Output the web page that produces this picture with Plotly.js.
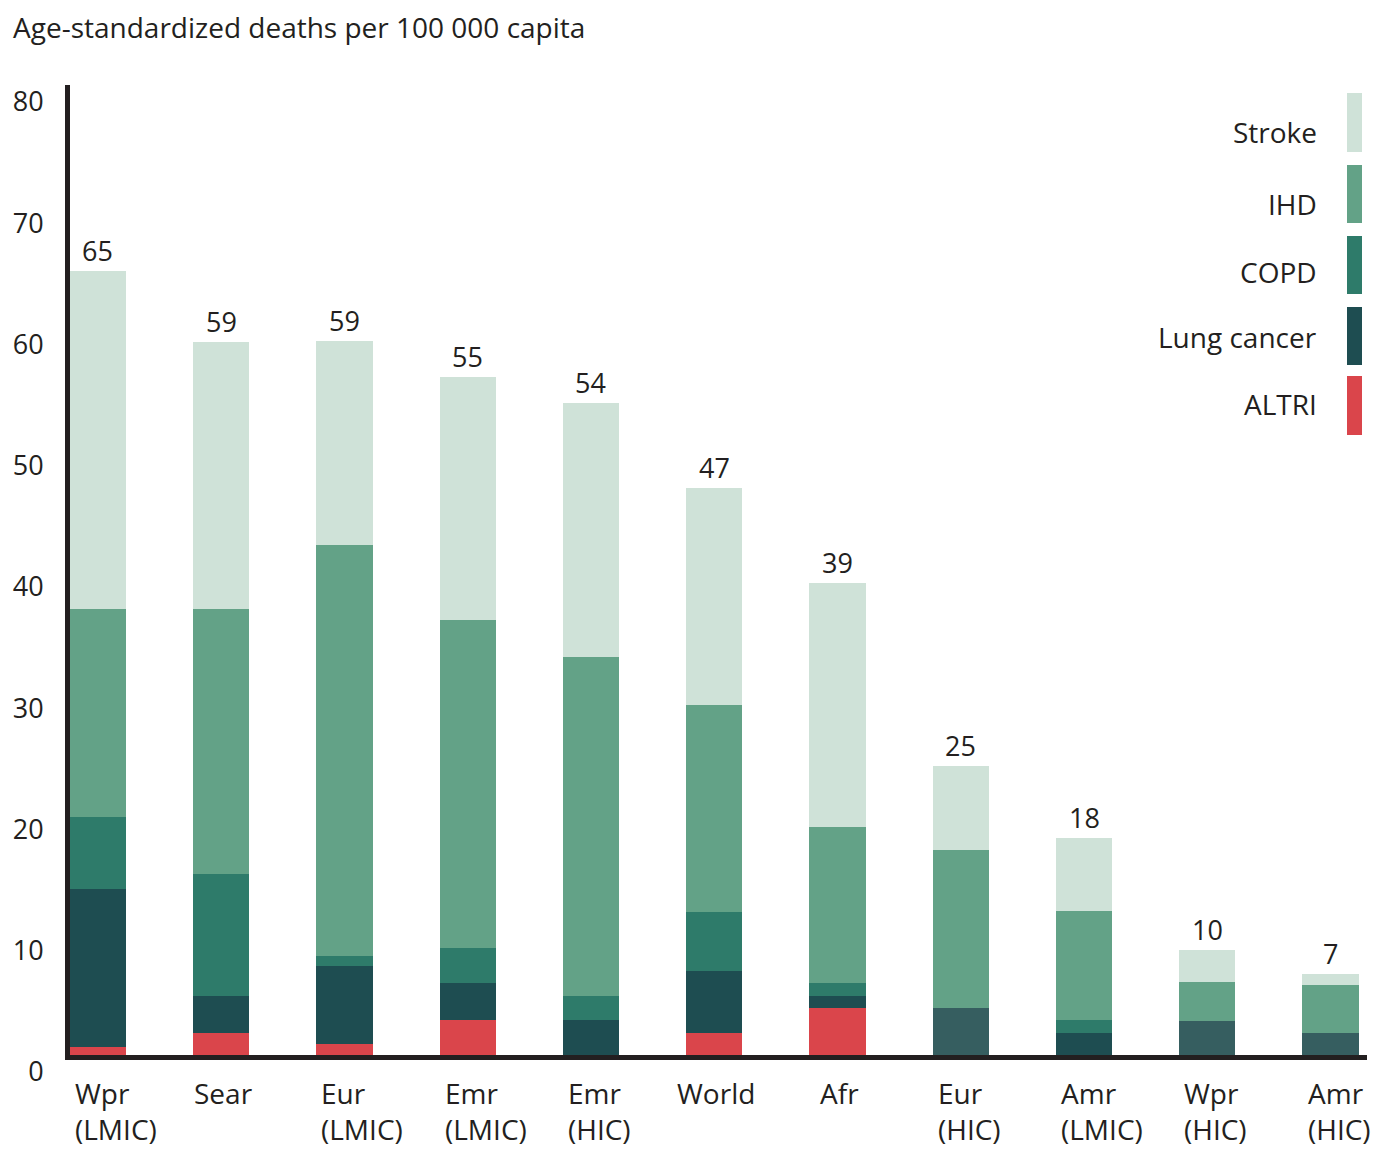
<!DOCTYPE html>
<html><head><meta charset="utf-8">
<script src="https://cdn.plot.ly/plotly-3.0.1.min.js"></script>
<style>html,body{margin:0;padding:0;background:#fff}#chart{width:1384px;height:1167px}</style>
</head><body><div id="chart"></div>
<script>
// ---- data ----
const categories = ['Wpr (LMIC)','Sear','Eur (LMIC)','Emr (LMIC)','Emr (HIC)','World','Afr','Eur (HIC)','Amr (LMIC)','Wpr (HIC)','Amr (HIC)'];
const categoryLabels = ['Wpr<br>(LMIC)','Sear','Eur<br>(LMIC)','Emr<br>(LMIC)','Emr<br>(HIC)','World','Afr','Eur<br>(HIC)','Amr<br>(LMIC)','Wpr<br>(HIC)','Amr<br>(HIC)'];
const altri      = [0.7, 1.8, 0.9, 2.9, 0,   1.8, 3.9, 0,    0,   0,   0];
const lungCancer = [13.0,3.1, 6.4, 3.0, 2.9, 5.1, 1.0, 3.9,  1.8, 2.8, 1.8];
const copd       = [5.9, 10.0,0.9, 2.9, 2.0, 4.9, 1.0, 0,    1.1, 0,   0];
const ihd        = [17.2,21.9,33.9,27.1,27.9,17.1,12.9,13.0, 9.0, 3.2, 4.0];
const stroke     = [27.9,22.0,16.8,20.0,21.0,17.9,20.1,6.9,  6.0, 2.7, 0.9];
const totalLabels = [65,59,59,55,54,47,39,25,18,10,7];
const yTicks = [0,10,20,30,40,50,60,70,80];
const seriesNames = ['ALTRI','Lung cancer','COPD','IHD','Stroke'];
const seriesColors = ['#da454b','#1e4d51','#2e7b6a','#63a287','#cfe2d8'];
const lungCancerBarColors = ['#1e4d51','#1e4d51','#1e4d51','#1e4d51','#1e4d51','#1e4d51','#1e4d51','#365e60','#1e4d51','#365e60','#365e60'];
const yTitle = 'Age-standardized deaths per 100 000 capita';

// ---- style ----
const FONT = 'Open Sans, Lato, sans-serif';
const TXT = '#231f20';
const FS = 28;
const M = {l:70, r:17, t:85, b:112};
const W = 1384, H = 1167;
const PW = W - M.l - M.r, PH = H - M.t - M.b;
const px2x = p => (p - M.l) / PW;
const py2y = p => (H - M.b - p) / PH;

const seriesData = [altri, lungCancer, copd, ihd, stroke];
const traces = seriesData.map((vals, k) => ({
  type: 'bar', name: seriesNames[k], x: categories, y: vals,
  marker: {color: k === 1 ? lungCancerBarColors : seriesColors[k], line: {width: 0}},
  hoverinfo: 'skip'
}));

const totals = categories.map((c, i) => seriesData.reduce((s, arr) => s + arr[i], 0));

const annotations = [];
categories.forEach((c, i) => {
  annotations.push({x: c, y: totals[i], xref: 'x', yref: 'y', text: String(totalLabels[i]),
    showarrow: false, yanchor: 'bottom', yshift: 0, font: {family: FONT, size: 27, color: TXT}});
  const twoLine = categoryLabels[i].indexOf('<br>') >= 0;
  annotations.push({x: c, y: 0, xref: 'x', yref: 'paper', text: categoryLabels[i], showarrow: false,
    xanchor: twoLine ? 'left' : 'center', align: 'left', xshift: twoLine ? -25 : 2,
    yanchor: 'top', yshift: -17, font: {family: FONT, size: FS, color: TXT}});
});

// legend (drawn manually, right aligned labels with vertical swatches)
const legendOrder = [4,3,2,1,0];
const swTop = [93,165,236,307,376], swBot = [152,223,294,365,435];
const labCenter = [132,204,272,337,404];
const shapes = [];
legendOrder.forEach((k, j) => {
  shapes.push({type: 'rect', xref: 'paper', yref: 'paper', x0: px2x(1347), x1: px2x(1362),
    y0: py2y(swBot[j]), y1: py2y(swTop[j]), fillcolor: seriesColors[k], line: {width: 0}});
  annotations.push({xref: 'paper', yref: 'paper', x: px2x(1319), y: py2y(labCenter[j]),
    xanchor: 'right', yanchor: 'middle', text: seriesNames[k], showarrow: false,
    font: {family: FONT, size: FS, color: TXT}});
});

const layout = {
  width: W, height: H, margin: M, paper_bgcolor: '#fff', plot_bgcolor: '#fff',
  barmode: 'stack', bargap: 0.544, showlegend: false, hovermode: false,
  font: {family: FONT, size: FS, color: TXT},
  title: {text: yTitle, font: {family: FONT, size: 28, color: TXT}, xref: 'container', yref: 'container',
    x: 13 / W, xanchor: 'left', y: 1 - 28 / H, yanchor: 'middle'},
  xaxis: {type: 'category', range: [-0.227, 10.296], showline: true, linewidth: 5, linecolor: TXT,
    showticklabels: false, ticks: '', showgrid: false, zeroline: false, fixedrange: true},
  yaxis: {range: [0, 80], tickvals: yTicks, ticktext: yTicks.map(String), showline: true, linewidth: 5, linecolor: TXT,
    ticks: '', showgrid: false, zeroline: false, fixedrange: true, ticklabelshift: 17, ticklabelstandoff: 16,
    tickfont: {family: FONT, size: 27, color: TXT}},
  annotations: annotations, shapes: shapes
};
Plotly.newPlot('chart', traces, layout, {displayModeBar: false, staticPlot: true});
</script>
</body></html>
